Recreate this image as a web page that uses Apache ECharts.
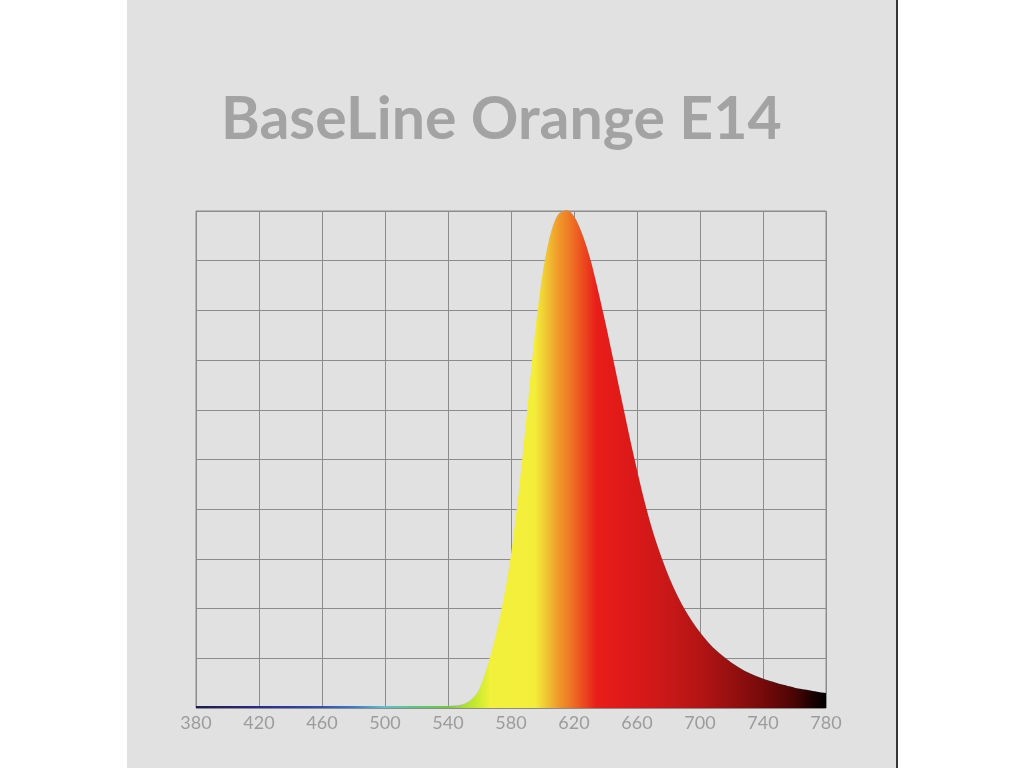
<!DOCTYPE html>
<html>
<head>
<meta charset="utf-8">
<script src="https://cdn.jsdelivr.net/npm/echarts@6/dist/echarts.min.js"></script>
<style>
  html, body { margin: 0; padding: 0; background: #ffffff; }
  #panel { position: absolute; left: 127px; top: 0; width: 769px; height: 768px; background: #e1e1e1; border-right: 2px solid #363636; }
  #chart { position: absolute; left: 0; top: 0; width: 1024px; height: 768px; }
</style>
</head>
<body>
<div id="panel"></div>
<div id="chart"></div>
<script>
// Chart title
const titleText = 'BaseLine Orange E14';

// Wavelengths (nm) and relative intensity (%)
const wavelengths = [380, 400, 420, 440, 460, 480, 500, 520, 540, 545, 550, 555, 560, 565, 570, 575, 580, 585, 590, 595, 600, 605, 610, 615, 620, 625, 630, 635, 640, 645, 650, 655, 660, 665, 670, 675, 680, 685, 690, 695, 700, 705, 710, 715, 720, 725, 730, 735, 740, 745, 750, 755, 760, 765, 770, 775, 780];
const intensity   = [0.2, 0.2, 0.2, 0.2, 0.2, 0.2, 0.2, 0.2, 0.2, 0.3, 0.6, 1.5, 3.5, 7.8, 13.5, 20.5, 29.5, 42, 57, 73, 86, 94.5, 99, 100, 98.6, 95, 90, 83.5, 76.5, 69, 61.5, 54, 47, 40.5, 34.9, 30.2, 26.1, 22.6, 19.6, 17.1, 14.9, 13.0, 11.4, 10.1, 8.9, 7.9, 7.0, 6.3, 5.7, 5.2, 4.7, 4.3, 3.9, 3.6, 3.3, 3.0, 2.8];

// Axis tick values
const xTicks = [380, 420, 460, 500, 540, 580, 620, 660, 700, 740, 780];

// Spectral colour stops (wavelength nm -> colour)
const spectrumNm     = [380, 420, 460, 480, 500, 520, 540, 550, 560, 567, 595, 602, 610, 618, 626, 634, 650, 680, 700, 720, 740, 760, 772, 780];
const spectrumColors = ['#1c1c4a', '#2a2a8a', '#3050b0', '#3a78c8', '#60c0d0', '#58c878', '#70c840', '#a8e030', '#d0ec30', '#f2f03a', '#f4ee3a', '#f0c834', '#f09a2a', '#ef7424', '#ec4a1e', '#e81e1a', '#e01a18', '#c81818', '#b41414', '#961010', '#760a0a', '#4a0505', '#180000', '#000000'];

const xMin = xTicks[0], xMax = xTicks[xTicks.length - 1];
const stops = spectrumNm.map((nm, i) => ({ offset: (nm - xMin) / (xMax - xMin), color: spectrumColors[i] }));
const grad = () => new echarts.graphic.LinearGradient(0, 0, 1, 0, stops);

const chart = echarts.init(document.getElementById('chart'), null, { renderer: 'canvas' });
const gridColor = '#8c8c8c';
chart.setOption({
  backgroundColor: 'transparent',
  animation: false,
  graphic: [{
    type: 'text',
    left: 221,
    top: 90,
    style: {
      text: titleText,
      fill: '#a3a3a3',
      font: 'bold 59px Lato, "Open Sans", sans-serif'
    }
  }],
  grid: { left: 196, right: 198, top: 211, bottom: 60, show: true, borderColor: gridColor, borderWidth: 1 },
  xAxis: {
    type: 'value', min: xMin, max: xMax, interval: 40,
    axisLine: { show: false }, axisTick: { show: false },
    axisLabel: { color: '#9c9c9c', fontSize: 18, fontFamily: 'Lato, sans-serif', margin: 6 },
    splitLine: { show: true, lineStyle: { color: gridColor, width: 1 } }
  },
  yAxis: {
    type: 'value', min: 0, max: 100, interval: 10,
    axisLine: { show: false }, axisTick: { show: false }, axisLabel: { show: false },
    splitLine: { show: true, lineStyle: { color: gridColor, width: 1 } }
  },
  series: [{
    type: 'line',
    data: wavelengths.map((w, i) => [w, intensity[i]]),
    smooth: 0.3,
    showSymbol: false,
    lineStyle: { width: 2, color: grad() },
    areaStyle: { color: grad(), opacity: 1 }
  }]
});
</script>
</body>
</html>
